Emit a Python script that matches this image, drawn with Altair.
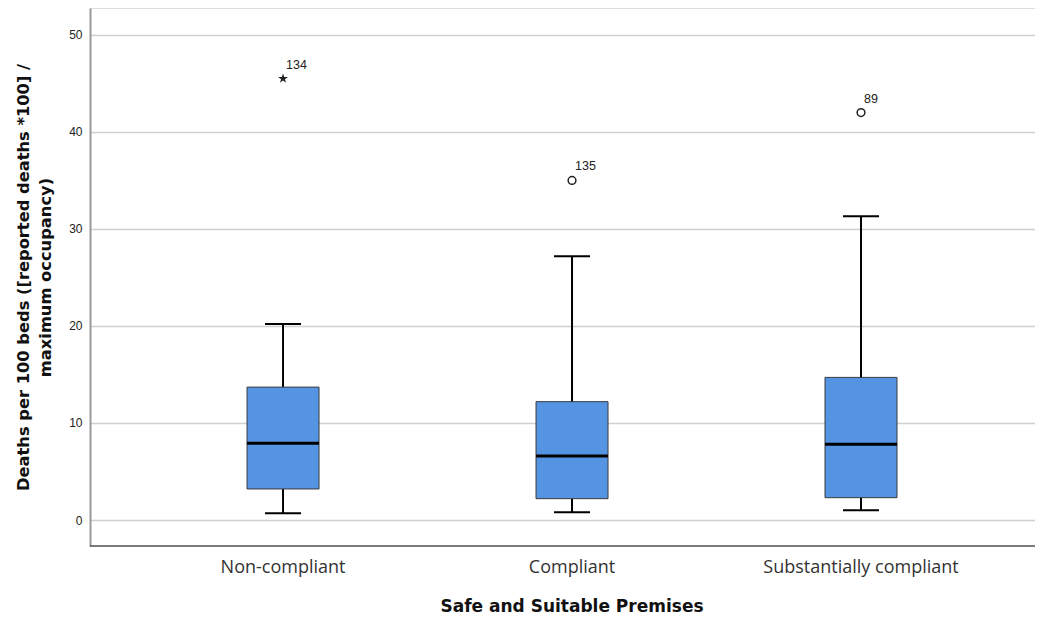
import altair as alt
import pandas as pd

categories = ["Non-compliant", "Compliant", "Substantially compliant"]
whisker_low = [0.7, 0.8, 1.0]
q1 = [3.2, 2.2, 2.3]
median = [7.9, 6.6, 7.8]
q3 = [13.7, 12.2, 14.7]
whisker_high = [20.2, 27.2, 31.3]

outlier_cat = ["Non-compliant", "Compliant", "Substantially compliant"]
outlier_val = [45.5, 35.0, 42.0]
outlier_label = ["134", "135", "89"]
outlier_kind = ["extreme", "outlier", "outlier"]

y_ticks = [0, 10, 20, 30, 40, 50]
Y_MIN, Y_MAX = -2.68, 52.78
x_title = "Safe and Suitable Premises"
y_title = ["Deaths per 100 beds ([reported deaths *100] /", "maximum occupancy)"]

box_df = pd.DataFrame({
    "cat": categories, "low": whisker_low, "q1": q1,
    "median": median, "q3": q3, "high": whisker_high,
})
out_df = pd.DataFrame({
    "cat": outlier_cat, "val": outlier_val,
    "label": outlier_label, "kind": outlier_kind,
})

FONT = "Liberation Sans"
TITLE_FONT = "DejaVu Sans"
LABEL_FONT = "Open Sans"
W, H = 945, 538

x_enc = alt.X(
    "cat:N", sort=categories,
    scale=alt.Scale(domain=categories, paddingInner=0, paddingOuter=0.135, align=0.622),
    axis=None,
)
y_scale = alt.Scale(domain=[Y_MIN, Y_MAX], nice=False, zero=False)
y_axis = alt.Axis(
    title=y_title,
    values=y_ticks, ticks=False, labelFontSize=12, labelColor="#222",
    labelPadding=8, labelFont=FONT, titleFont=TITLE_FONT, titleFontSize=16.3,
    titleFontWeight="bold", titleColor="#111", titleLineHeight=22,
    titleX=-67, titleY=H / 2, titleAlign="center", titleBaseline="middle", titleAngle=270,
    domainColor="#999", domainWidth=2, grid=True, gridColor="#cfcfcf", gridWidth=1.5,
)

base = alt.Chart(box_df).encode(x=x_enc)

whisker = base.mark_rule(color="black", strokeWidth=2).encode(
    y=alt.Y("low:Q", scale=y_scale, axis=y_axis), y2="high:Q"
)
cap_low = base.mark_tick(color="black", thickness=2, size=36, orient="horizontal", opacity=1).encode(
    y=alt.Y("low:Q")
)
cap_high = base.mark_tick(color="black", thickness=2, size=36, orient="horizontal", opacity=1).encode(
    y=alt.Y("high:Q")
)
box = base.mark_bar(size=72, fill="#5594E2", stroke="#3a3a3a", strokeWidth=1, opacity=1).encode(
    y=alt.Y("q1:Q"), y2="q3:Q"
)
med = base.mark_tick(color="black", thickness=3, size=72, orient="horizontal", opacity=1).encode(
    y=alt.Y("median:Q")
)

# x axis drawn by hand (domain line, labels, title)
x_domain = alt.Chart(pd.DataFrame({"v": [Y_MIN]})).mark_rule(color="#555", strokeWidth=1.5).encode(
    y=alt.Y("v:Q"), x=alt.value(0), x2=alt.value(W)
)
x_labels = base.mark_text(
    fontSize=18, font=LABEL_FONT, color="#333", baseline="middle", align="center"
).encode(y=alt.value(H + 22), text="cat:N")
x_title_mark = alt.Chart(pd.DataFrame({"t": [x_title]})).mark_text(
    fontSize=17, font=TITLE_FONT, color="#111", fontWeight="bold", baseline="middle", align="center"
).encode(x=alt.value(482), y=alt.value(H + 61), text="t:N")

odf = alt.Chart(out_df).encode(x=x_enc)
circles = odf.transform_filter(alt.datum.kind == "outlier").mark_point(
    shape="circle", filled=False, size=60, color="#222", strokeWidth=1.5, opacity=1
).encode(y=alt.Y("val:Q"))
STAR = ("M0,-1L0.2245,-0.309L0.951,-0.309L0.363,0.118L0.588,0.809L0,0.382"
        "L-0.588,0.809L-0.363,0.118L-0.951,-0.309L-0.2245,-0.309Z")
stars = odf.transform_filter(alt.datum.kind == "extreme").mark_point(
    shape=STAR, filled=True, size=110, color="#222", strokeWidth=0, opacity=1
).encode(y=alt.Y("val:Q"))
labels = odf.mark_text(
    align="left", baseline="middle", dx=3, dy=-14, fontSize=12.5, font=FONT, color="#222"
).encode(y=alt.Y("val:Q"), text="label:N")

chart = alt.layer(
    whisker, cap_low, cap_high, box, med, x_domain, x_labels, x_title_mark,
    circles, stars, labels
).properties(
    width=W, height=H,
    autosize=alt.AutoSizeParams(type="none"),
    padding={"left": 82, "top": 0, "right": 0, "bottom": 70},
).configure_view(stroke=None).configure(background="white")

chart.save("out.html", embed_options={"renderer": "svg", "actions": False})
